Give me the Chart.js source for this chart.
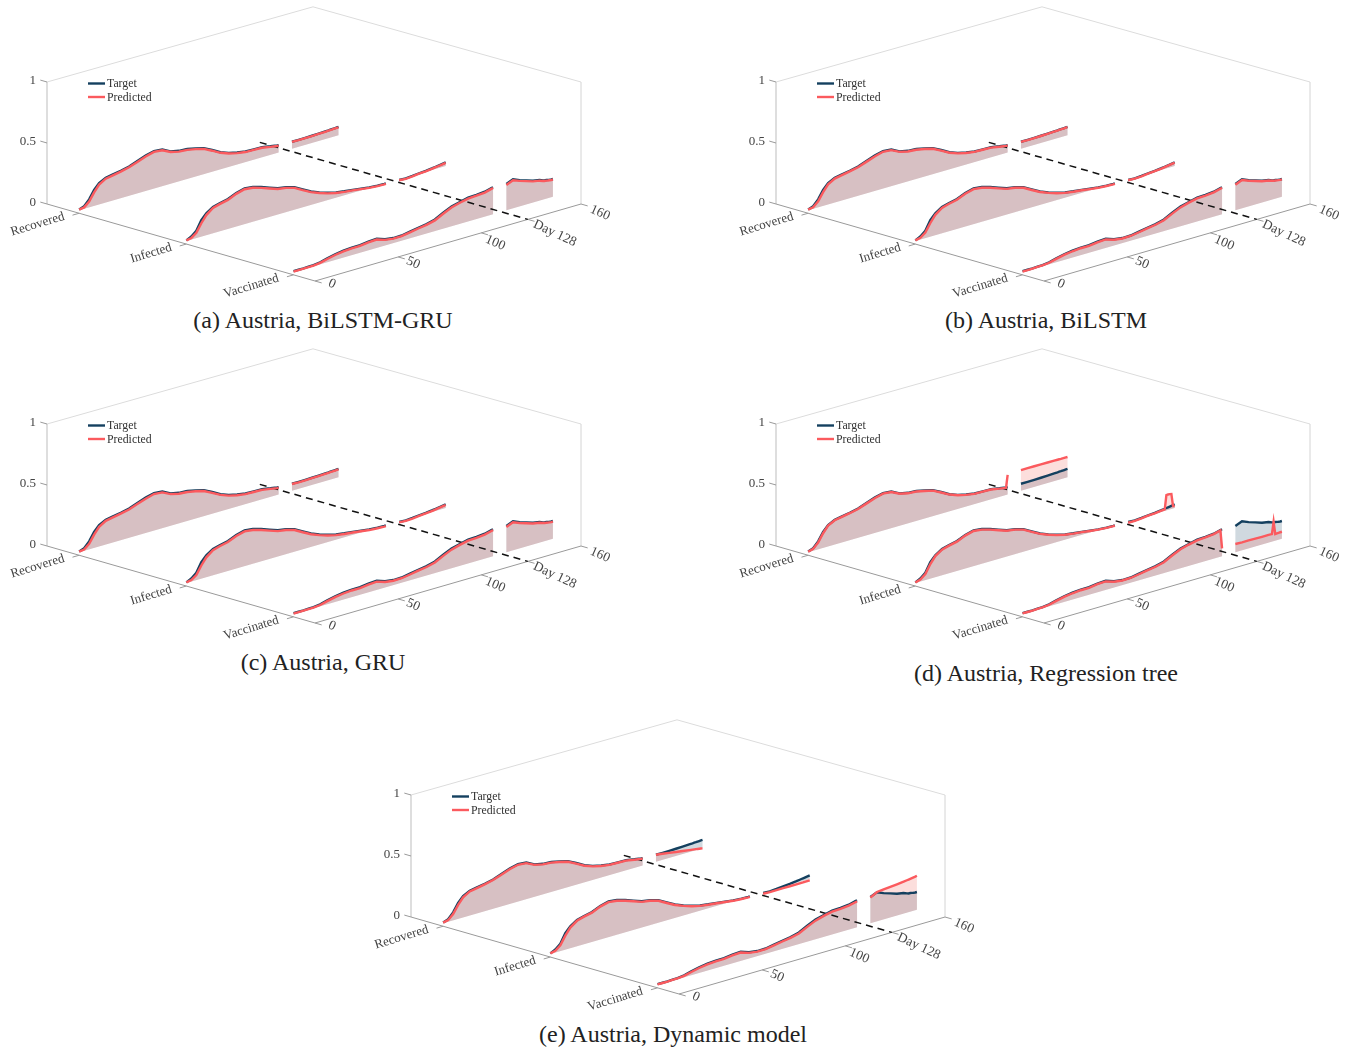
<!DOCTYPE html>
<html>
<head>
<meta charset="utf-8">
<title>Austria, model comparison</title>
<style>
  html, body { margin: 0; padding: 0; background: #fff; }
  body { position: relative; width: 1349px; height: 1051px; overflow: hidden; }
  canvas { position: absolute; }
  .caption {
    position: absolute; width: 500px; text-align: center; line-height: 28px;
    font-family: "Liberation Serif", serif; font-size: 24px; color: #222;
  }
</style>
</head>
<body>
<script src="https://cdn.jsdelivr.net/npm/chart.js@4/dist/chart.umd.min.js"></script>
<script>
const days = [0, 3, 6, 9, 12, 16, 20, 25, 30, 35, 40, 45, 50, 55, 60, 65, 70, 75, 80, 85, 90, 95, 100, 105, 110, 115, 119, 120,
  128, 132, 136, 140, 144, 148, 150, 151, 152, 153, 154, 155, 156];
const dayMark = 128;
const dayTicks = [0, 50, 100, 160];
const zTicks = [0, 0.5, 1];
const seriesNames = ['Recovered', 'Infected', 'Vaccinated'];
const captions = ['(a) Austria, BiLSTM-GRU', '(b) Austria, BiLSTM', '(c) Austria, GRU', '(d) Austria, Regression tree', '(e) Austria, Dynamic model'];

const recoveredTarget = [.03, .045, .09, .155, .2, .228, .237, .25, .265, .29, .315, .332, .325, .29, .275, .27, .255, .238, .203, .165, .14, .124, .112, .11, .108, .095, .086, .085,
  .081, .081, .082, .083, .085, .087, .088, .089, .089, .09, .091, .092, .092];
const infectedTarget = [.03, .05, .085, .16, .205, .24, .255, .27, .3, .318, .31, .29, .265, .24, .23, .21, .172, .135, .108, .085, .068, .058, .05, .04, .03, .025, .023, .023,
  .02, .018, .022, .028, .032, .038, .042, .044, .046, .048, .05, .052, .054];
const vaccinatedTarget = [.03, .03, .03, .032, .033, .04, .055, .07, .08, .085, .085, .095, .098, .075, .065, .066, .078, .09, .1, .118, .155, .185, .203, .218, .222, .228, .242, .245,
  .24, .262, .24, .222, .203, .193, .183, .178, .178, .175, .172, .17, .17];

const recoveredBiLstmGru = [.03, .036, .072, .135, .188, .22, .23, .243, .258, .282, .307, .325, .319, .285, .268, .263, .249, .232, .197, .16, .135, .118, .107, .105, .103, .09, .082, .081,
  .08, .078, .079, .08, .082, .084, .085, .086, .086, .087, .088, .089, .089];
const infectedBiLstmGru = [.03, .038, .068, .135, .19, .232, .248, .263, .293, .311, .303, .283, .258, .234, .224, .204, .166, .13, .103, .08, .063, .053, .045, .036, .026, .021, .019, .019,
  .018, .014, .018, .024, .028, .034, .038, .04, .042, .044, .046, .048, .05];
const vaccinatedBiLstmGru = [.027, .027, .027, .028, .029, .035, .049, .064, .074, .079, .079, .088, .092, .07, .06, .061, .072, .084, .094, .111, .146, .177, .196, .211, .215, .221, .235, .238,
  .232, .255, .234, .216, .198, .188, .178, .174, .173, .17, .168, .166, .166];

const recoveredBiLstm = [.03, .037, .074, .138, .19, .221, .231, .244, .259, .283, .308, .326, .32, .286, .269, .264, .25, .233, .198, .161, .136, .119, .108, .106, .104, .091, .083, .082,
  .08, .079, .08, .081, .083, .085, .086, .087, .087, .088, .089, .09, .09];
const infectedBiLstm = [.03, .039, .07, .137, .192, .233, .249, .264, .294, .312, .304, .284, .259, .235, .225, .205, .167, .131, .104, .081, .064, .054, .046, .036, .027, .022, .02, .02,
  .018, .015, .019, .025, .029, .035, .039, .041, .043, .045, .047, .049, .051];
const vaccinatedBiLstm = [.027, .027, .028, .029, .03, .036, .05, .065, .075, .08, .08, .089, .093, .071, .061, .062, .073, .085, .095, .112, .147, .178, .197, .212, .216, .222, .236, .239,
  .233, .256, .235, .217, .199, .189, .179, .175, .174, .171, .169, .167, .167];

const recoveredGru = [.03, .035, .07, .133, .186, .219, .229, .242, .257, .281, .306, .324, .318, .284, .267, .262, .248, .231, .196, .159, .134, .117, .106, .104, .102, .09, .081, .08,
  .079, .077, .078, .08, .081, .083, .084, .085, .085, .086, .087, .088, .088];
const infectedGru = [.03, .037, .066, .133, .188, .231, .247, .262, .292, .31, .302, .282, .257, .233, .223, .203, .165, .129, .102, .079, .062, .052, .044, .035, .025, .02, .018, .018,
  .017, .014, .017, .023, .027, .033, .037, .039, .041, .043, .045, .047, .049];
const vaccinatedGru = [.026, .026, .027, .028, .028, .034, .048, .063, .073, .078, .078, .087, .091, .069, .059, .06, .071, .083, .093, .11, .145, .176, .195, .21, .214, .22, .234, .237,
  .231, .254, .233, .215, .197, .187, .177, .173, .172, .169, .167, .165, .165];

const recoveredTree = [.029, .04, .08, .145, .195, .224, .234, .246, .261, .285, .31, .327, .321, .287, .271, .266, .251, .234, .199, .162, .137, .12, .109, .107, .105, .092, .083, .185,
  .193, .193, .193, .192, .192, .191, .191, .191, .19, .19, .19, .19, .19];
const infectedTree = [.029, .042, .075, .145, .198, .235, .25, .265, .295, .313, .305, .285, .26, .236, .226, .206, .168, .132, .105, .082, .065, .055, .047, .037, .028, .023, .021, .021,
  .014, .014, .018, .024, .028, .034, .037, .15, .151, .15, .147, .044, .04];
const vaccinatedTree = [.028, .028, .028, .029, .03, .036, .05, .065, .075, .08, .08, .09, .093, .071, .061, .062, .073, .085, .095, .112, .148, .179, .198, .213, .217, .224, .238, .088,
  .092, .09, .09, .089, .088, .088, .087, .184, .079, .08, .081, .082, .082];

const recoveredDynamic = [.03, .038, .076, .14, .19, .222, .232, .245, .26, .284, .309, .326, .32, .286, .27, .265, .25, .233, .198, .161, .136, .119, .108, .106, .104, .091, .083, .082,
  .081, .073, .065, .056, .049, .04, .036, .034, .032, .03, .028, .026, .023];
const infectedDynamic = [.03, .04, .072, .14, .194, .234, .25, .265, .295, .312, .304, .284, .26, .235, .225, .205, .167, .131, .104, .081, .064, .054, .046, .037, .027, .022, .02, .02,
  .014, .012, .012, .012, .012, .012, .012, .012, .012, .013, .013, .013, .013];
const vaccinatedDynamic = [.028, .028, .028, .029, .03, .035, .049, .064, .074, .079, .08, .089, .092, .07, .06, .061, .072, .084, .094, .11, .145, .176, .195, .21, .214, .22, .232, .235,
  .234, .265, .27, .275, .28, .286, .29, .292, .294, .296, .298, .3, .303];

const predictedByPanel = [
  [recoveredBiLstmGru, infectedBiLstmGru, vaccinatedBiLstmGru],
  [recoveredBiLstm, infectedBiLstm, vaccinatedBiLstm],
  [recoveredGru, infectedGru, vaccinatedGru],
  [recoveredTree, infectedTree, vaccinatedTree],
  [recoveredDynamic, infectedDynamic, vaccinatedDynamic]
];
const targets = [recoveredTarget, infectedTarget, vaccinatedTarget];

// where each series sits along the depth axis, and the floor of its shaded area
const seriesDepth = [0.88, 0.48, 0.08];
const fillBase = 0.024;

const panelLeft = [0, 729, 0, 729, 364];
const panelTop = [0, 0, 342, 342, 713];
const captionX = [323, 1046, 323, 1046, 673];
const captionY = [306, 306, 648, 659, 1020];

// label centres relative to the tick on the day axis
const dayLabelDx = [17, 15, 14, 19];
const dayLabelDy = [3, 6, 10, 9];

const W = 620, H = 300;
const TARGET = '#14405f', PREDICTED = '#fb5a5e';
const TARGET_FILL = 'rgba(20,64,95,0.2)', PREDICTED_FILL = 'rgba(240,90,80,0.2)';
const SERIF = '"Liberation Serif", serif';

// fixed 3D view: day runs up-right, depth up-left, value straight up
function project(day, depth, z) {
  return {
    x: 315 + day / 160 * 266 - depth * 268,
    y: 281 - day / 160 * 77 - depth * 77 - z * 122
  };
}

function guide(points, color, extra) {
  return Object.assign({ data: points, borderColor: color, borderWidth: 1, showLine: true, pointRadius: 0, fill: false }, extra);
}

function buildDatasets(panel) {
  const split = days.indexOf(dayMark);
  const sets = [];

  // box
  sets.push(guide([project(0, 1, 1), project(160, 1, 0.985), project(160, 0, 1)], '#dcdcdc'));
  sets.push(guide([project(0, 1, 0), project(0, 1, 1)], '#bdbdbd'));
  sets.push(guide([project(160, 0, 0), project(160, 0, 1)], '#d4d4d4'));
  sets.push(guide([project(0, 1, 0), project(0, 0, 0), project(160, 0, 0)], '#9a9a9a'));

  // ticks
  zTicks.forEach(z => sets.push(guide([project(0, 1, z), project(0, 1.025, z)], '#9a9a9a')));
  dayTicks.concat(dayMark).forEach(d => sets.push(guide([project(d, 0, 0), project(d, -0.025, 0)], '#9a9a9a')));
  seriesDepth.forEach(s => sets.push(guide([project(0, s, 0), project(-4, s, 0)], '#9a9a9a')));

  const parts = [[0, split], [split, days.length]];

  // shaded areas under each curve
  seriesDepth.forEach((depth, s) => {
    [[targets[s], TARGET_FILL], [predictedByPanel[panel][s], PREDICTED_FILL]].forEach(([values, color]) => {
      parts.forEach(([a, b]) => {
        const pts = [];
        for (let i = a; i < b; i++) pts.push(project(days[i], depth, values[i]));
        pts.push(project(days[b - 1], depth, fillBase));
        pts.push(project(days[a], depth, fillBase));
        sets.push({ data: pts, showLine: true, borderWidth: 0, pointRadius: 0, backgroundColor: color, fill: 'shape' });
      });
    });
  });

  // Day 128 marker on the floor
  sets.push(guide([project(dayMark, 1, 0), project(dayMark, 0, 0)], '#111', { borderWidth: 1.5, borderDash: [7, 5] }));

  // curves, target under predicted
  [[targets, TARGET], [predictedByPanel[panel], PREDICTED]].forEach(([group, color]) => {
    seriesDepth.forEach((depth, s) => {
      parts.forEach(([a, b]) => {
        const pts = [];
        for (let i = a; i < b; i++) pts.push(project(days[i], depth, group[s][i]));
        sets.push(guide(pts, color, { borderWidth: 2.4 }));
      });
    });
  });
  // Chart.js paints the first dataset last, so flip to keep the curves on top
  return sets.reverse();
}

function tiltedText(ctx, text, x, y, angle, align) {
  ctx.save();
  ctx.translate(x, y);
  ctx.rotate(angle * Math.PI / 180);
  ctx.textAlign = align;
  ctx.textBaseline = 'middle';
  ctx.fillText(text, 0, 0);
  ctx.restore();
}

const axisText = {
  id: 'axisText',
  afterDatasetsDraw(chart) {
    const ctx = chart.ctx;
    ctx.save();
    ctx.fillStyle = '#444';
    ctx.font = '13px ' + SERIF;

    zTicks.forEach(z => {
      const p = project(0, 1, z);
      tiltedText(ctx, String(z), p.x - 11, p.y - 1, 0, 'right');
    });
    seriesDepth.forEach((depth, s) => {
      const p = project(0, depth, 0);
      tiltedText(ctx, seriesNames[s], p.x - 15, p.y + 3, -17, 'right');
    });
    ctx.font = '13.5px ' + SERIF;
    dayTicks.forEach((d, i) => {
      const p = project(d, 0, 0);
      tiltedText(ctx, String(d), p.x + dayLabelDx[i], p.y + dayLabelDy[i], 24, 'center');
    });
    const m = project(dayMark, 0, 0);
    tiltedText(ctx, 'Day ' + dayMark, m.x + 27, m.y + 14, 25, 'center');

    // legend
    ctx.font = '11.8px ' + SERIF;
    ctx.lineWidth = 2.4;
    [['Target', TARGET, 83.5], ['Predicted', PREDICTED, 97]].forEach(([label, color, y]) => {
      ctx.strokeStyle = color;
      ctx.beginPath();
      ctx.moveTo(88, y);
      ctx.lineTo(105, y);
      ctx.stroke();
      ctx.fillStyle = '#333';
      tiltedText(ctx, label, 107, y + 0.5, 0, 'left');
    });
    ctx.restore();
  }
};

captions.forEach((text, i) => {
  const canvas = document.createElement('canvas');
  canvas.width = W;
  canvas.height = H;
  canvas.style.left = panelLeft[i] + 'px';
  canvas.style.top = panelTop[i] + 'px';
  document.body.appendChild(canvas);

  new Chart(canvas.getContext('2d'), {
    type: 'scatter',
    data: { datasets: buildDatasets(i) },
    plugins: [axisText],
    options: {
      responsive: false,
      animation: false,
      clip: false,
      layout: { padding: 0 },
      plugins: { legend: { display: false }, tooltip: { enabled: false } },
      scales: {
        x: { type: 'linear', min: 0, max: W, display: false },
        y: { type: 'linear', min: 0, max: H, reverse: true, display: false }
      }
    }
  });

  const cap = document.createElement('div');
  cap.className = 'caption';
  cap.textContent = text;
  cap.style.left = (captionX[i] - 250) + 'px';
  cap.style.top = captionY[i] + 'px';
  document.body.appendChild(cap);
});
</script>
</body>
</html>
